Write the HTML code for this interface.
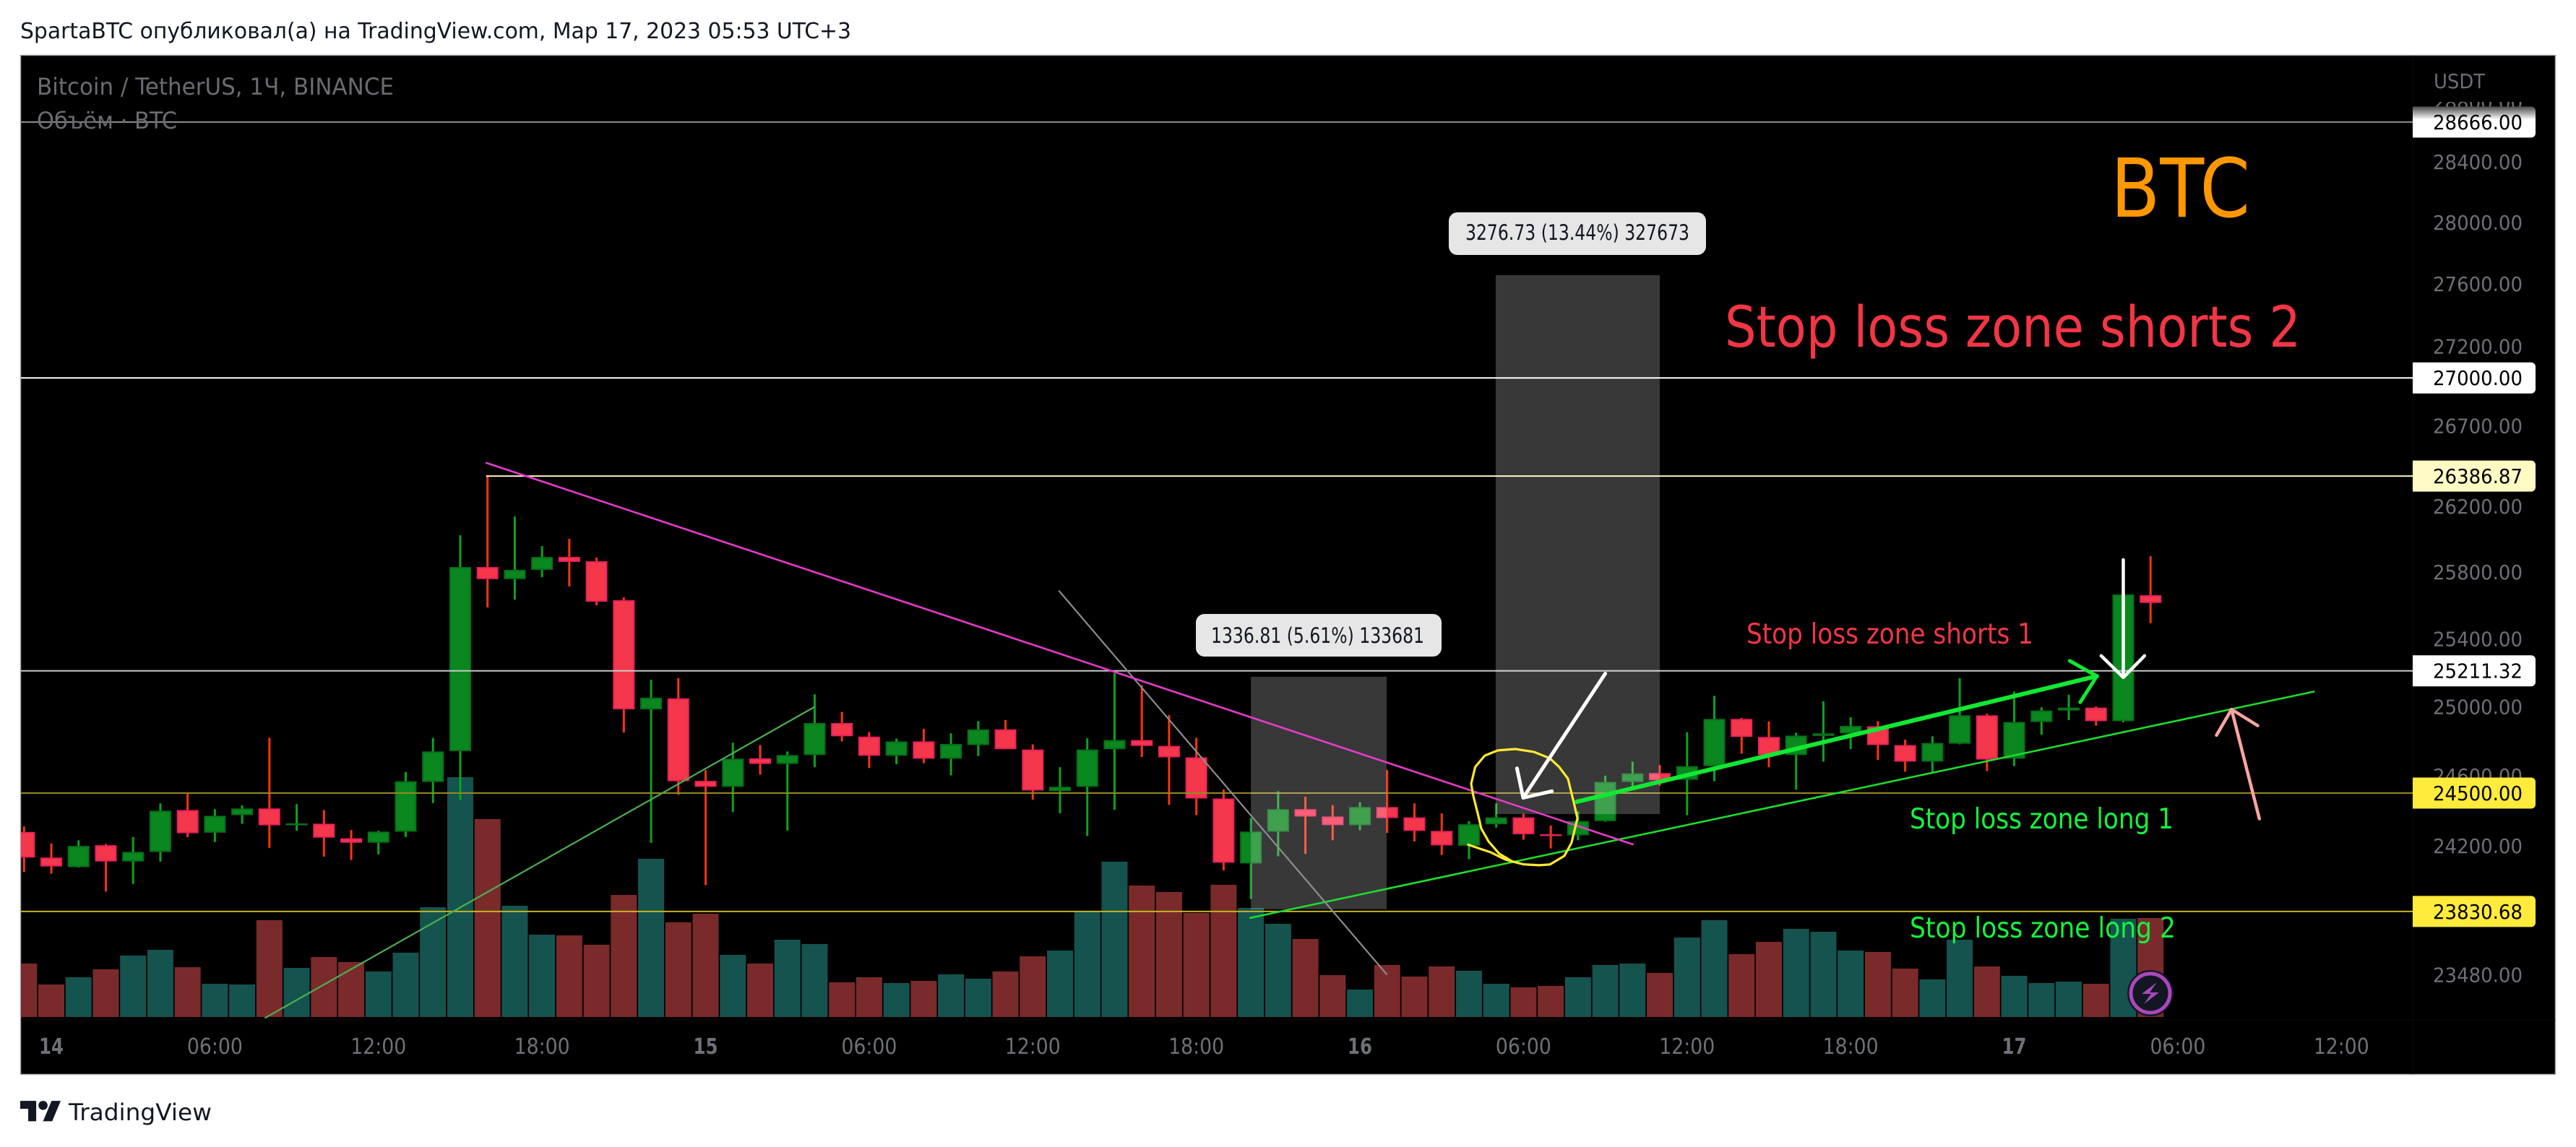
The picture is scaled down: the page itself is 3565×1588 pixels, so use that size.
<!DOCTYPE html>
<html lang="ru">
<head>
<meta charset="utf-8">
<title>BTC chart</title>
<style>
html,body{margin:0;padding:0;background:#fff;}
svg{display:block;font-family:"DejaVu Sans","Liberation Sans",sans-serif;}
</style>
</head>
<body>
<svg id="chart" xmlns="http://www.w3.org/2000/svg" width="3565" height="1588" viewBox="0 0 3565 1588">
  <defs>
    <clipPath id="pane-clip"><rect x="29" y="77" width="3310" height="1334"/></clipPath>
    <linearGradient id="fade-label" x1="0" y1="0" x2="0" y2="1">
      <stop offset="0" stop-color="#4a4a4a"/>
      <stop offset="0.42" stop-color="#ffffff"/>
      <stop offset="1" stop-color="#ffffff"/>
    </linearGradient>
  </defs>
  <rect x="0" y="0" width="3565" height="1588" fill="#ffffff"/>
  <text x="28" y="53" font-size="30" fill="#131722" textLength="1150" lengthAdjust="spacingAndGlyphs">SpartaBTC опубликовал(а) на TradingView.com, Мар 17, 2023 05:53 UTC+3</text>
  <rect x="28.5" y="76.5" width="3508" height="1411" fill="#000000" stroke="#a4a7b0" stroke-width="1.5"/>
  <line x1="3339" y1="77" x2="3339" y2="1487" stroke="#060606" stroke-width="2"/>
  <line x1="29" y1="1412" x2="3536" y2="1412" stroke="#060606" stroke-width="2"/>

  <g clip-path="url(#pane-clip)">
    <g id="volumes"></g>
    <g id="candles"></g>
    <g id="hlines"></g>
    <g id="boxes"></g>
    <g id="drawings"></g>
  </g>

  <g>
    <rect x="1655" y="850" width="340" height="59" rx="12" fill="#e6e6e6"/>
    <text x="1676" y="890" font-size="29" fill="#131722" textLength="295" lengthAdjust="spacingAndGlyphs">1336.81 (5.61%) 133681</text>
  </g>
  <g>
    <rect x="2005" y="294" width="356" height="59" rx="12" fill="#e6e6e6"/>
    <text x="2028" y="332" font-size="29" fill="#131722" textLength="310" lengthAdjust="spacingAndGlyphs">3276.73 (13.44%) 327673</text>
  </g>

  <text x="51" y="131" font-size="32" fill="#6a6c72" textLength="494" lengthAdjust="spacingAndGlyphs">Bitcoin / TetherUS, 1Ч, BINANCE</text>
  <text x="51" y="178" font-size="32" fill="#6a6c72" textLength="194" lengthAdjust="spacingAndGlyphs">Объём · BTC</text>

  <text x="2921" y="300" font-size="112" fill="#ff9800" textLength="193" lengthAdjust="spacingAndGlyphs">BTC</text>
  <text x="2387" y="480" font-size="78" fill="#f23645" textLength="797" lengthAdjust="spacingAndGlyphs">Stop loss zone shorts 2</text>
  <text x="2417" y="891" font-size="39" fill="#f23645" textLength="397" lengthAdjust="spacingAndGlyphs">Stop loss zone shorts 1</text>
  <text x="2643" y="1147" font-size="39" fill="#14f53c" textLength="365" lengthAdjust="spacingAndGlyphs">Stop loss zone long 1</text>
  <text x="2643" y="1298" font-size="39" fill="#14f53c" textLength="368" lengthAdjust="spacingAndGlyphs">Stop loss zone long 2</text>

  <g id="time-axis"></g>
  <g id="price-axis"></g>
  <rect x="3345" y="124" width="160" height="17" fill="#000000"/>
  <text x="3368" y="122" font-size="28" fill="#6c6e74" textLength="71" lengthAdjust="spacingAndGlyphs">USDT</text>
  <g id="price-labels"></g>

  <g>
    <circle cx="2976" cy="1375" r="32" fill="#131722"/>
    <circle cx="2976" cy="1375" r="27" fill="none" stroke="#ab47bc" stroke-width="5"/>
    <polygon points="2985,1360 2964,1376 2977,1376 2967,1390 2988,1374 2975,1374" fill="#ab47bc"/>
  </g>

  <g>
    <svg x="28" y="1517.8" width="56.8" height="44" viewBox="0 0 36 28" preserveAspectRatio="none">
      <path d="M14 22H7V11H0V4h14v18ZM28 22h-8l7.5-18h8L28 22Z" fill="#131722"/>
      <circle cx="20" cy="8" r="4" fill="#131722"/>
    </svg>
    <text x="95" y="1551" font-size="32" fill="#131722" textLength="198" lengthAdjust="spacingAndGlyphs">TradingView</text>
  </g>
</svg>

<script>
/* ---- candle data (hours since 14 Mar 00:00, prices in USDT, volume in BTC) ---- */
const hours = [-1,0,1,2,3,4,5,6,7,8,9,10,11,12,13,14,15,16,17,18,19,20,21,22,23,24,25,26,27,28,29,30,31,32,33,34,35,36,37,38,39,40,41,42,43,44,45,46,47,48,49,50,51,52,53,54,55,56,57,58,59,60,61,62,63,64,65,66,67,68,69,70,71,72,73,74,75,76,77];
const opens = [24278,24133,24079,24203,24111,24165,24403,24274,24374,24412,
  24316,24325,24242,24217,24280,24564,24742,25831,25758,25814,
  25892,25866,25631,24985,25049,24570,24536,24700,24668,24719,
  24905,24826,24715,24798,24698,24777,24868,24751,24511,24536,
  24753,24806,24772,24706,24469,24100,24280,24408,24366,24317,
  24420,24361,24284,24200,24322,24361,24265,24259,24340,24564,
  24615,24576,24655,24929,24824,24719,24830,24845,24886,24777,
  24681,24785,24950,24698,24911,24978,24995,24916,25661];
const highs = [24310,24213,24231,24210,24249,24441,24497,24408,24430,24819,
  24437,24403,24289,24285,24621,24819,26024,26386.87,26138,25958,
  26002,25888,25648,25159,25168,24632,24791,24777,24740,25073,
  24970,24853,24815,24871,24845,24916,24922,24781,24649,24817,
  25197,25127,24952,24819,24521,24357,24511,24479,24431,24448,
  24632,24441,24384,24340,24441,24382,24315,24395,24600,24681,
  24661,24851,25064,24935,24914,24849,25032,24939,24916,24808,
  24828,25168,24959,25089,24997,25071,25002,25666,25897];
const lows = [24052,24042,24077,23942,23985,24110,24249,24221,24325,24188,
  24285,24138,24119,24151,24249,24443,24460,25588,25635,25770,
  25714,25601,24850,24216,24490,23978,24391,24606,24286,24649,
  24798,24644,24666,24672,24602,24713,24753,24462,24384,24255,
  24405,24708,24433,24374,24061,23900,24140,24154,24231,24288,
  24273,24225,24148,24123,24303,24234,24185,24231,24336,24521,
  24542,24374,24568,24727,24649,24519,24681,24753,24691,24623,
  24619,24781,24627,24655,24837,24922,24890,24909,25494];
const closes = [24133,24083,24199,24111,24165,24399,24271,24370,24412,24316,
  24327,24246,24217,24280,24568,24740,25831,25758,25814,25892,
  25862,25622,24985,25053,24568,24536,24698,24668,24719,24905,
  24828,24715,24798,24698,24783,24868,24753,24515,24536,24751,
  24806,24772,24706,24469,24104,24280,24408,24366,24317,24420,
  24357,24284,24202,24322,24361,24265,24259,24340,24564,24613,
  24574,24655,24929,24824,24719,24832,24845,24888,24777,24681,
  24789,24950,24693,24911,24978,24995,24916,25666,25615];
const volumes = [7400,4500,5500,6600,8500,9300,6900,4600,4500,13400,
  6800,8300,7600,6300,8900,15200,33200,27400,15400,11400,
  11300,10000,16900,21900,13100,14300,8600,7400,10700,10100,
  4800,5500,4700,5000,5900,5300,6300,8400,9200,14600,
  21500,18200,17300,14400,18300,15100,12900,10800,5800,3800,
  7200,5600,7000,6400,4600,4100,4300,5500,7200,7400,
  6100,11000,13400,8700,10400,12200,11800,9200,9000,6700,
  5200,10700,7000,5700,4700,4900,4600,13600,13700];

/* ---- axis labels ---- */
const priceTicks = [28800,28400,28000,27600,27200,26700,26200,25800,25400,25000,24600,24200,23480];
const timeTickHours = [0,6,12,18,24,30,36,42,48,54,60,66,72,78,84];
const timeTickLabels = ['14','06:00','12:00','18:00','15','06:00','12:00','18:00','16','06:00','12:00','18:00','17','06:00','12:00'];

/* ---- horizontal levels ---- */
const levelPrices = [28666,27000,26386.87,25211.32,24500,23830.68];
const levelStartHours = [-2,-2,15.95,-2,-2,-2];

/* ---- drawings as [hour, price] anchors ---- */
const boxOneHours = [44,48.98];
const boxOnePrices = [25176,23843];
const boxTwoHours = [52.98,59];
const boxTwoPrices = [27657,24380];
const magentaLine = [[15.96,26468],[58.01,24208]];
const grayLine = [[36.97,25686],[48.98,23483]];
const leftGreenLine = [[7.85,23245],[27.98,24998]];
const channelLine = [[43.98,23795],[82.99,25089]];
const greenArrowShaft = [[55.95,24450],[75.03,25180]];
const greenArrowHead = [[74.04,25270],[75.03,25180],[74.42,25027]];
const whiteArrowOneShaft = [[57,25195],[53.99,24473]];
const whiteArrowOneHead = [[53.76,24642],[53.99,24473],[55.04,24511]];
const whiteArrowTwoShaft = [[76,25875],[76,25172]];
const whiteArrowTwoHead = [[75.19,25300],[76,25172],[76.78,25300]];
const pinkArrowShaft = [[80.99,24353],[79.97,24985]];
const pinkArrowHead = [[79.42,24834],[79.97,24985],[80.93,24890]];
const brushStroke = [[51.97,24206],[52.45,24181],[52.8,24163],[53.33,24122],[53.59,24111],[53.99,24095],[54.57,24090],[54.97,24094],[55.5,24143],[55.76,24216],[55.98,24356],[55.84,24450],[55.63,24583],[55.31,24650],[54.97,24700],[54.39,24737],[53.7,24754],[53.06,24746],[52.58,24716],[52.23,24650],[52.08,24554],[52.15,24490],[52.37,24353],[52.45,24298],[52.72,24224],[53.11,24155],[53.59,24111]];

/* ---- axis functions ---- */
const NS = 'http://www.w3.org/2000/svg';
function xAt(hour){ return 71 + 37.73 * hour; }
function yAt(price){ return 978.5 - 5916 * Math.log(price / 25000); }
function volHeight(v){ return v * 0.01; }
const VOL_BASE = 1408;

function make(tag, parent){
  const el = document.createElementNS(NS, tag);
  parent.appendChild(el);
  return el;
}
function pointsOf(anchors){
  return anchors.map(function(a){ return xAt(a[0]).toFixed(1) + ',' + yAt(a[1]).toFixed(1); }).join(' ');
}

/* volume bars */
const volG = document.getElementById('volumes');
hours.forEach(function(h, i){
  const r = make('rect', volG);
  
  
  const H = volHeight(volumes[i]);
  r.setAttribute('x', xAt(h) - 18);
  r.setAttribute('y', VOL_BASE - H);
  r.setAttribute('width', 36);
  r.setAttribute('height', H);
  r.setAttribute('fill', closes[i] >= opens[i] ? '#15534f' : '#7a2a2b');
});

/* candles */
const candleG = document.getElementById('candles');
hours.forEach(function(h, i){
  const up = closes[i] >= opens[i];
  const cx = xAt(h);
  const w = make('rect', candleG);
  
  
  w.setAttribute('x', cx - 1.5);
  w.setAttribute('y', yAt(highs[i]));
  w.setAttribute('width', 3);
  w.setAttribute('height', Math.max(1, yAt(lows[i]) - yAt(highs[i])));
  w.setAttribute('fill', up ? '#0ca321' : '#fb3412');
  const top = yAt(Math.max(opens[i], closes[i]));
  const bot = yAt(Math.min(opens[i], closes[i]));
  const b = make('rect', candleG);
  
  
  b.setAttribute('x', cx - 14);
  b.setAttribute('y', top + 1);
  b.setAttribute('width', 28);
  b.setAttribute('height', Math.max(0.5, bot - top - 2));
  b.setAttribute('fill', up ? '#0a871e' : '#f5374b');
  b.setAttribute('stroke', up ? '#06701a' : '#ea1f5f');
  b.setAttribute('stroke-width', 2);
});

/* horizontal levels and their labels */
const levelLineColors = ['#8c8c8c','#ffffff','#fff3c4','#c8c8c8','#968a22','#c4b520'];
const levelLabelFills = ['url(#fade-label)','#ffffff','#fff9c4','#ffffff','#ffeb3b','#ffeb3b'];
const hG = document.getElementById('hlines');
const labelG = document.getElementById('price-labels');
levelPrices.forEach(function(p, i){
  const l = make('line', hG);
  
  
  l.setAttribute('x1', xAt(levelStartHours[i]));
  l.setAttribute('x2', 3339);
  l.setAttribute('y1', yAt(p));
  l.setAttribute('y2', yAt(p));
  l.setAttribute('stroke', levelLineColors[i]);
  l.setAttribute('stroke-width', 2);
  const cy = yAt(p);
  const bg = make('path', labelG);
  
  
  const t0 = cy - 21.5, b0 = cy + 21.5;
  bg.setAttribute('d', 'M3339 ' + t0 + 'H3503a6 6 0 0 1 6 6V' + (b0 - 6) + 'a6 6 0 0 1 -6 6H3339Z');
  bg.setAttribute('fill', levelLabelFills[i]);
  const tx = make('text', labelG);
  
  
  tx.setAttribute('x', 3367);
  tx.setAttribute('y', cy + 10);
  tx.setAttribute('font-size', 28);
  tx.setAttribute('fill', '#000000');
  tx.setAttribute('textLength', 124);
  tx.setAttribute('lengthAdjust', 'spacingAndGlyphs');
  tx.textContent = p.toFixed(2);
});

/* price range boxes */
const boxG = document.getElementById('boxes');
function drawBox(hs, ps){
  const r = make('rect', boxG);
  
  
  r.setAttribute('x', xAt(hs[0]));
  r.setAttribute('y', yAt(ps[0]));
  r.setAttribute('width', xAt(hs[1]) - xAt(hs[0]));
  r.setAttribute('height', yAt(ps[1]) - yAt(ps[0]));
  r.setAttribute('fill', '#ffffff');
  r.setAttribute('fill-opacity', 0.22);
}
drawBox(boxOneHours, boxOnePrices);
drawBox(boxTwoHours, boxTwoPrices);

/* trend lines, arrows, brush */
const drawG = document.getElementById('drawings');
function drawPath(anchors, color, width){
  const p = make('polyline', drawG);
  
  
  p.setAttribute('points', pointsOf(anchors));
  p.setAttribute('fill', 'none');
  p.setAttribute('stroke', color);
  p.setAttribute('stroke-width', width);
  p.setAttribute('stroke-linecap', 'round');
  p.setAttribute('stroke-linejoin', 'round');
}
drawPath(leftGreenLine, '#4caf50', 2.2);
drawPath(channelLine, '#1edc2f', 2.6);
drawPath(grayLine, '#8c8c8c', 2.2);
drawPath(magentaLine, '#e63ccb', 2.6);
drawPath(brushStroke, '#ffe934', 3.2);
drawPath(greenArrowShaft, '#12e832', 6);
drawPath(greenArrowHead, '#12e832', 5);
drawPath(whiteArrowOneShaft, '#ffffff', 5);
drawPath(whiteArrowOneHead, '#ffffff', 5);
drawPath(whiteArrowTwoShaft, '#ffffff', 4.5);
drawPath(whiteArrowTwoHead, '#ffffff', 4.5);
drawPath(pinkArrowShaft, '#f8a5a0', 4.5);
drawPath(pinkArrowHead, '#f8a5a0', 4.5);

/* time axis */
const timeG = document.getElementById('time-axis');
timeTickHours.forEach(function(h, i){
  const label = timeTickLabels[i];
  const day = label.length === 2;
  const t = make('text', timeG);
  
  
  t.setAttribute('x', xAt(h));
  t.setAttribute('y', 1459);
  t.setAttribute('font-size', 30);
  t.setAttribute('text-anchor', 'middle');
  t.setAttribute('fill', '#6f7178');
  t.setAttribute('textLength', day ? 34 : 77);
  t.setAttribute('lengthAdjust', 'spacingAndGlyphs');
  if (day) t.setAttribute('font-weight', 'bold');
  t.textContent = label;
});

/* price axis */
const priceG = document.getElementById('price-axis');
priceTicks.forEach(function(p){
  const t = make('text', priceG);
  
  
  t.setAttribute('x', 3367);
  t.setAttribute('y', yAt(p) + 10);
  t.setAttribute('font-size', 28);
  t.setAttribute('fill', '#6e7076');
  t.setAttribute('textLength', 124);
  t.setAttribute('lengthAdjust', 'spacingAndGlyphs');
  t.textContent = p.toFixed(2);
});
</script>
</body>
</html>
